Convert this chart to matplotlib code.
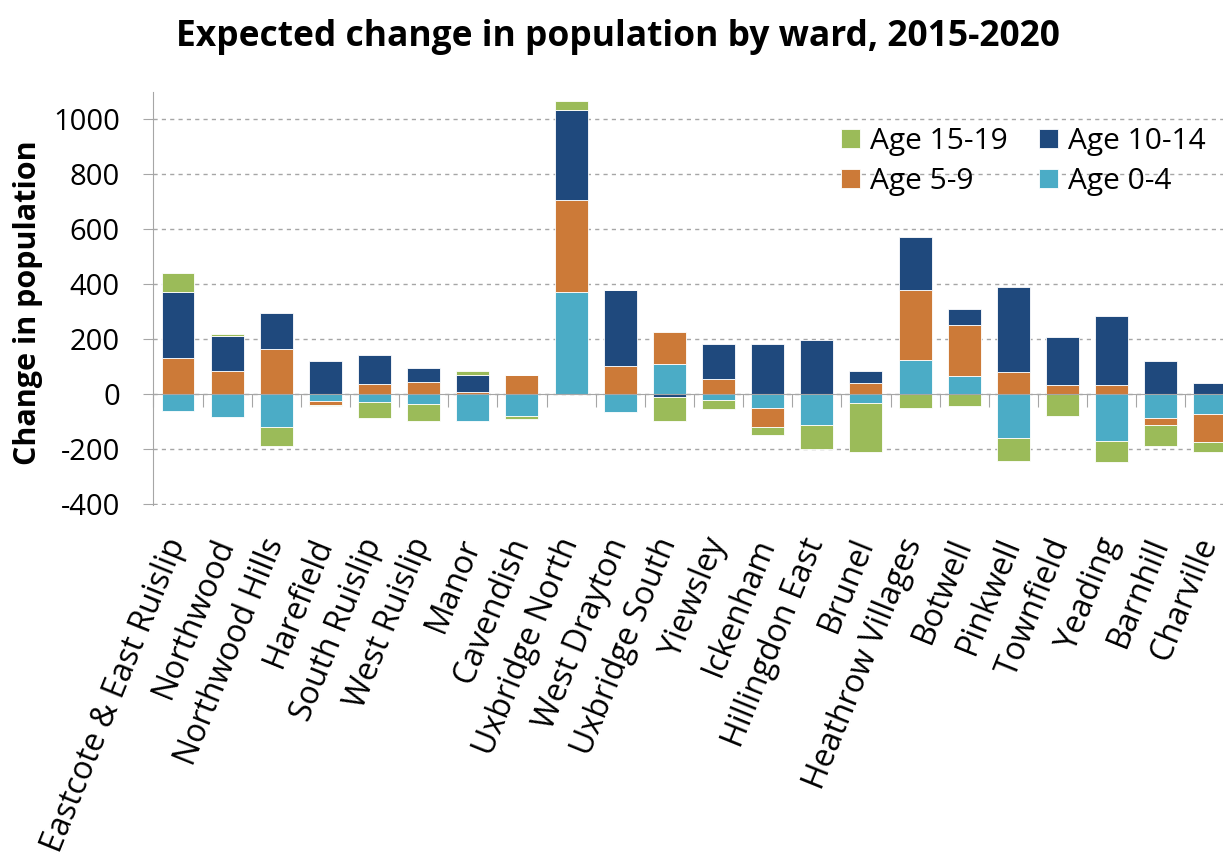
import matplotlib
matplotlib.use("Agg")
import matplotlib.pyplot as plt
import numpy as np

wards = ["Eastcote & East Ruislip", "Northwood", "Northwood Hills", "Harefield",
         "South Ruislip", "West Ruislip", "Manor", "Cavendish", "Uxbridge North",
         "West Drayton", "Uxbridge South", "Yiewsley", "Ickenham", "Hillingdon East",
         "Brunel", "Heathrow Villages", "Botwell", "Pinkwell", "Townfield", "Yeading",
         "Barnhill", "Charville"]

age_0_4 = [-63, -85, -119, -27, -30, -38, -98, -81, 371, -65, 107, -22,
           -53, -113, -34, 125, 65, -160, 0, -173, -88, -73]
age_5_9 = [132, 82, 165, -12, 36, 44, 7, 67, 336, 102, 118, 53,
           -66, 0, 40, 253, 187, 79, 34, 34, -24, -104]
age_10_14 = [240, 130, 128, 121, 105, 52, 63, 0, 328, 275, -11, 130,
             183, 198, 42, 195, 58, 312, 172, 250, 121, 40]
age_15_19 = [68, 6, -70, -7, -58, -60, 15, -11, 32, 0, -88, -34,
             -31, -89, -178, -50, -46, -84, -79, -74, -77, -34]

series = [("Age 0-4", age_0_4, "#4BACC6"),
          ("Age 5-9", age_5_9, "#CC7A38"),
          ("Age 10-14", age_10_14, "#1F497D"),
          ("Age 15-19", age_15_19, "#9BBB59")]

plt.rcParams['font.family'] = ['Open Sans', 'DejaVu Sans']

W, H = 1223, 857
fig = plt.figure(figsize=(W / 100, H / 100), dpi=100)
ax = fig.add_axes([153.4 / W, 1 - 505 / H, (1234.5 - 153.4) / W, (505 - 92) / H])

x = np.arange(len(wards))
pos_base = np.zeros(len(wards))
neg_base = np.zeros(len(wards))
handles = {}
for name, vals, col in series:
    v = np.array(vals, dtype=float)
    base = np.where(v >= 0, pos_base, neg_base)
    b = ax.bar(x, v, 0.67, bottom=base, color=col, edgecolor="white",
               linewidth=0.6, zorder=3, label=name)
    handles[name] = b
    pos_base += np.where(v > 0, v, 0)
    neg_base += np.where(v < 0, v, 0)

ax.set_xlim(-0.5, len(wards) - 0.5)
ax.set_ylim(-405, 1100)
yt = list(range(-400, 1001, 200))
ax.set_yticks(yt)
ax.set_yticklabels([str(t) for t in yt], fontsize=21)
ax.yaxis.grid(True, linestyle=(0, (3, 3)), color="#A6A6A6", linewidth=1, zorder=0)
ax.tick_params(axis='y', length=7.2, color="#A6A6A6", pad=17)

for s in ["top", "right"]:
    ax.spines[s].set_visible(False)
ax.spines["left"].set_color("#A6A6A6")
ax.spines["bottom"].set_color("#A6A6A6")
ax.spines["bottom"].set_position(("data", 0))
ax.spines["bottom"].set_zorder(4)

ax.set_xticks(np.arange(len(wards) + 1) - 0.5)
ax.set_xticklabels([])
ax.tick_params(axis='x', length=9, color="#A6A6A6", direction="out")

for i, w in enumerate(wards):
    ax.text(i - 0.02, -530, w, rotation=68, rotation_mode="anchor",
            ha="right", va="center", fontsize=23, clip_on=False)

ax.set_ylabel("Change in population", fontsize=22, fontweight="bold")
ax.yaxis.set_label_coords(-0.102, 0.49)

fig.text(0.505, 1 - 37 / H, "Expected change in population by ward, 2015-2020",
         ha="center", va="center", fontsize=25.5, fontweight="bold")

order = ["Age 15-19", "Age 5-9", "Age 10-14", "Age 0-4"]
leg = ax.legend([handles[n] for n in order], order, ncol=2, frameon=False,
                fontsize=21.5, loc="upper left",
                bbox_to_anchor=(841 / W, 1 - 127 / H), bbox_transform=fig.transFigure,
                borderaxespad=0, borderpad=0,
                handlelength=0.63, handleheight=0.63, handletextpad=0.33,
                columnspacing=1.07, labelspacing=0.37)

fig.savefig("out.png", dpi=100)
